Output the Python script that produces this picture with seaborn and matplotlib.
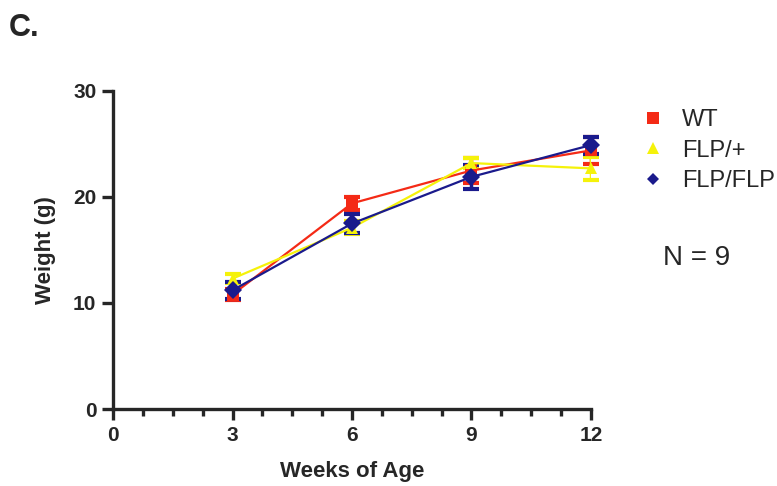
import numpy as np
import pandas as pd
import seaborn as sns
import matplotlib.pyplot as plt
from matplotlib.lines import Line2D
from matplotlib.ticker import MultipleLocator

# ------------------------------
# Data
# ------------------------------
weeks = [3, 6, 9, 12]
groups = ["WT", "FLP/+", "FLP/FLP"]
wt_mean = [10.8, 19.4, 22.5, 24.4]
wt_err = [0.5, 0.6, 1.2, 1.3]
flp_het_mean = [12.3, 17.1, 23.2, 22.7]
flp_het_err = [0.4, 0.6, 0.5, 1.1]
flp_hom_mean = [11.2, 17.5, 21.9, 24.9]
flp_hom_err = [0.8, 0.85, 1.1, 0.8]

colors = {"WT": "#f42a16", "FLP/+": "#f5f20a", "FLP/FLP": "#1a1a8c"}
markers = {"WT": "s", "FLP/+": "^", "FLP/FLP": "D"}
msizes = {"WT": 9, "FLP/+": 9, "FLP/FLP": 7}

df = pd.DataFrame({
    "week": weeks * 3,
    "weight": wt_mean + flp_het_mean + flp_hom_mean,
    "err": wt_err + flp_het_err + flp_hom_err,
    "group": [g for g in groups for _ in weeks],
})

sns.set_style("ticks")
plt.rcParams["font.family"] = ["Liberation Sans", "DejaVu Sans"]

fig = plt.figure(figsize=(7.77, 4.86), dpi=100)
ax = fig.add_axes([113 / 777, 1 - 409 / 486, 478 / 777, 318 / 486])

# ------------------------------
# Error bars then lines + markers
# ------------------------------
for g in groups:
    sub = df[df["group"] == g]
    ax.errorbar(sub["week"], sub["weight"], yerr=sub["err"], fmt="none",
                ecolor=colors[g], elinewidth=2.5, capsize=5.5, capthick=3, zorder=2)

sns.lineplot(data=df, x="week", y="weight", hue="group", style="group",
             palette=colors, markers=markers, dashes=False, linewidth=1.6,
             markersize=9, markeredgewidth=0, legend=False, ax=ax, zorder=3)

# ------------------------------
# Axes styling
# ------------------------------
ax.set_xlim(0, 12)
ax.set_ylim(0, 30)
ax.set_xticks([0, 3, 6, 9, 12])
ax.set_yticks([0, 10, 20, 30])
ax.xaxis.set_minor_locator(MultipleLocator(0.75))
for s in ["top", "right"]:
    ax.spines[s].set_visible(False)
for s in ["left", "bottom"]:
    ax.spines[s].set_linewidth(2.4)
ax.tick_params(axis="both", which="major", length=8, width=2.4,
               labelsize=15, direction="out", pad=4)
ax.tick_params(axis="x", which="minor", length=5, width=2.4, direction="out")
for lbl in ax.get_xticklabels() + ax.get_yticklabels():
    lbl.set_fontweight("bold")
ax.set_xlabel("Weeks of Age", fontsize=16, fontweight="bold", labelpad=12)
ax.set_ylabel("Weight (g)", fontsize=16, fontweight="bold", labelpad=12)
for ln in ax.lines:
    ln.set_clip_on(False)

# ------------------------------
# Legend and annotations
# ------------------------------
handles = [Line2D([], [], linestyle="none", marker=markers[g], color=colors[g],
                  markersize=msizes[g] - 1, markeredgewidth=0) for g in groups]
fig.legend(handles, groups, loc="upper left", bbox_to_anchor=(618 / 777, 1 - 88 / 486),
           frameon=False, fontsize=17, handlelength=1.2, handletextpad=0.6,
           labelspacing=0.35)
fig.text(663 / 777, 1 - 258 / 486, "N = 9", fontsize=20, va="center", ha="left")
fig.text(9 / 777, 1 - 28 / 486, "C.", fontsize=22, fontweight="bold", va="center")

fig.savefig("out.png", dpi=100)
